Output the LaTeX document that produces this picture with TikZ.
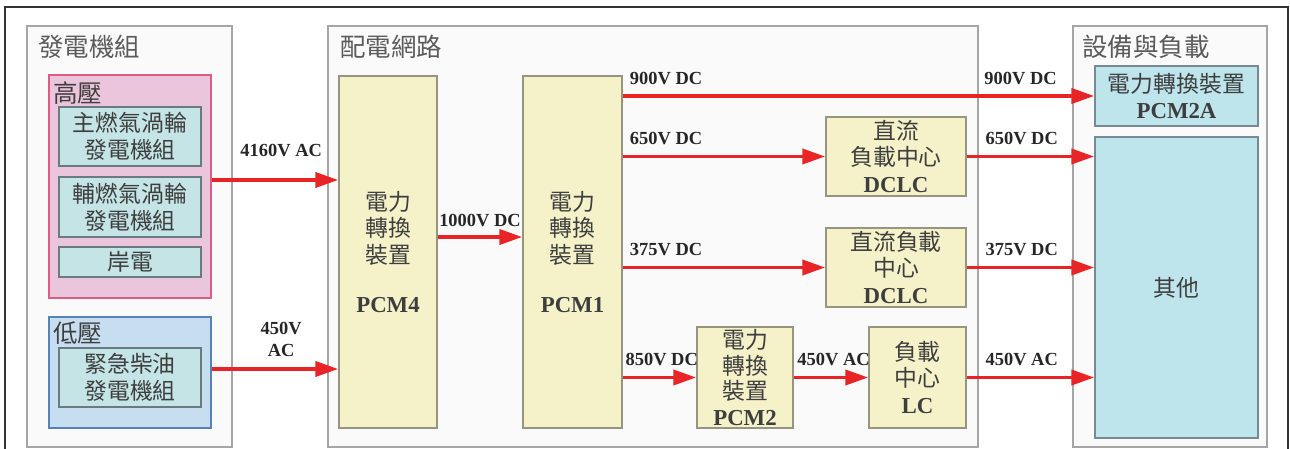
\documentclass[tikz,border=0pt]{standalone}
\usepackage{fontspec}
\setmainfont{Liberation Serif}
\newfontfamily\cjk{Noto Sans CJK TC}
\usepackage{tikz}
\usetikzlibrary{positioning}
\usetikzlibrary{arrows.meta, calc}
\definecolor{areafill}{RGB}{250,250,250}
\definecolor{areadraw}{RGB}{165,165,165}
\definecolor{hvfill}{RGB}{235,197,219}
\definecolor{hvdraw}{RGB}{222,92,130}
\definecolor{lvfill}{RGB}{199,222,240}
\definecolor{lvdraw}{RGB}{86,130,188}
\definecolor{genfill}{RGB}{196,228,230}
\definecolor{gendraw}{RGB}{105,122,130}
\definecolor{convfill}{RGB}{245,242,202}
\definecolor{convdraw}{RGB}{150,150,128}
\definecolor{loadfill}{RGB}{190,228,236}
\definecolor{loaddraw}{RGB}{118,138,148}
\definecolor{arrowred}{RGB}{232,36,38}
\definecolor{cjkgray}{RGB}{62,62,62}
\def\latn#1{{\rmfamily\bfseries #1}}
\tikzstyle{area} = [draw=areadraw, fill=areafill, line width=0.8pt, inner sep=0pt]
\tikzstyle{areatitle} = [anchor=west, inner sep=0pt, text=cjkgray!85, font=\cjk\fontsize{14.5}{16}\selectfont]
\tikzstyle{hvbox} = [draw=hvdraw, fill=hvfill, line width=1pt, inner sep=0pt]
\tikzstyle{lvbox} = [draw=lvdraw, fill=lvfill, line width=1pt, inner sep=0pt]
\tikzstyle{genbox} = [draw=gendraw, fill=genfill, line width=0.9pt, inner sep=0pt, align=center, text=cjkgray, font=\cjk\fontsize{13}{15.3}\selectfont, minimum width=2.84cm]
\tikzstyle{convbox} = [draw=convdraw, fill=convfill, line width=0.9pt, inner sep=0pt, align=center, text=cjkgray, font=\cjk\fontsize{13}{15}\selectfont]
\tikzstyle{loadbox} = [draw=loaddraw, fill=loadfill, line width=0.9pt, inner sep=0pt, align=center, text=cjkgray, font=\cjk\fontsize{13}{15}\selectfont, minimum width=3.26cm]
\tikzstyle{volt} = [inner sep=0pt, align=center, text=black!85, font=\bfseries\fontsize{10.5}{12.5}\selectfont]
\tikzstyle{arrow} = [draw=arrowred, line width=2.2pt, -{Triangle[length=13pt,width=8.5pt]}]

\begin{document}
\begin{tikzpicture}[x=0.02cm,y=-0.02cm]
      \useasboundingbox (0,0) rectangle (1290,449);
      \draw[black!80, line width=1.2pt] (5,449) -- (5,7) -- (1288,7) -- (1288,449);
      % three areas
      \node[area, minimum width=4.1cm, minimum height=8.42cm] (gen) at (129.5,236.5) {};
      \node[area, minimum width=13cm, minimum height=8.42cm] (net) at (653,236.5) {};
      \node[area, minimum width=3.88cm, minimum height=8.42cm] (load) at (1170,236.5) {};
      \node[areatitle] (tgen) at (38,47) {發電機組};
      \node[areatitle] (tnet) at (340,47) {配電網路};
      \node[areatitle] (tload) at (1082,47) {設備與負載};
      % generators
      \node[hvbox, minimum width=3.24cm, minimum height=4.46cm] (hv) at (130,186.5) {};
      \node[areatitle, text=cjkgray, font=\cjk\fontsize{14}{16}\selectfont] (thv) at (53,93) {高壓};
      \node[genbox, minimum height=1.18cm] (gt1) at (130,136.5) {主燃氣渦輪\\發電機組};
      \node[genbox, minimum height=1.2cm] (gt2) at (130,207) {輔燃氣渦輪\\發電機組};
      \node[genbox, minimum height=0.6cm] (shore) at (130,262) {岸電};
      \node[lvbox, minimum width=3.24cm, minimum height=2.22cm] (lv) at (130,372.5) {};
      \node[areatitle, text=cjkgray, font=\cjk\fontsize{14}{16}\selectfont] (tlv) at (53,333) {低壓};
      \node[genbox, minimum height=1.18cm] (diesel) at (130,377.5) {緊急柴油\\發電機組};
      % distribution
      \node[convbox, minimum width=1.96cm, minimum height=7.04cm] (pcm4) at (388,252) {電力\\轉換\\裝置\\[13pt]\latn{PCM4}};
      \node[convbox, minimum width=1.98cm, minimum height=7.04cm] (pcm1) at (572.5,252) {電力\\轉換\\裝置\\[13pt]\latn{PCM1}};
      \node[convbox, minimum width=2.8cm, minimum height=1.58cm] (dclc1) at (896,156.5) {直流\\負載中心\\\latn{DCLC}};
      \node[convbox, minimum width=2.8cm, minimum height=1.58cm] (dclc2) at (896,267.5) {直流負載\\中心\\\latn{DCLC}};
      \node[convbox, minimum width=1.92cm, minimum height=2.02cm, font=\cjk\fontsize{13}{14.6}\selectfont] (pcm2) at (745,377.5) {電力\\轉換\\裝置\\\latn{PCM2}};
      \node[convbox, minimum width=1.94cm, minimum height=2.02cm] (lc) at (917.5,377.5) {負載\\中心\\\latn{LC}};
      % loads
      \node[loadbox, minimum height=1.2cm] (pcm2a) at (1176.5,96) {電力轉換裝置\\\latn{PCM2A}};
      \node[loadbox, minimum height=6.02cm] (other) at (1176.5,287.5) {其他};
      % arrows
      \coordinate (hvout) at ([yshift=0.13cm]hv.east);
      \coordinate (lvout) at ([yshift=0.07cm]lv.east);
      \coordinate (dcout) at ([yshift=0.3cm]pcm4.east);
      \draw[arrow] (hvout) -- (hvout -| pcm4.west) node[volt, midway, above=12pt, xshift=3.5pt] (v4160) {4160V AC};
      \draw[arrow] (lvout) -- (lvout -| pcm4.west) node[volt, midway, above=6pt, xshift=3.5pt] (v450a) {450V\\AC};
      \draw[arrow] (dcout) -- (dcout -| pcm1.west) node[volt, midway, above=5pt] (v1000) {1000V DC};
      \draw[arrow] (pcm2a.west -| pcm1.east) -- (pcm2a.west)
            node[volt, pos=0, anchor=south west, xshift=3pt, yshift=5.5pt] (v900a) {900V DC}
            node[volt, pos=0.763, anchor=south west, yshift=5.5pt] (v900b) {900V DC};
      \draw[arrow] (dclc1.west -| pcm1.east) -- (dclc1.west) node[volt, pos=0, anchor=south west, xshift=3pt, yshift=5.5pt] (v650a) {650V DC};
      \draw[arrow] (dclc1.east) -- (dclc1.east -| other.west) node[volt, pos=0, anchor=south west, xshift=9.6pt, yshift=5.5pt] (v650b) {650V DC};
      \draw[arrow] (dclc2.west -| pcm1.east) -- (dclc2.west) node[volt, pos=0, anchor=south west, xshift=3pt, yshift=5.5pt] (v375a) {375V DC};
      \draw[arrow] (dclc2.east) -- (dclc2.east -| other.west) node[volt, pos=0, anchor=south west, xshift=9.6pt, yshift=5.5pt] (v375b) {375V DC};
      \draw[arrow] (pcm2.west -| pcm1.east) -- (pcm2.west) node[volt, pos=0, anchor=south west, xshift=0.5pt, yshift=5.5pt] (v850) {850V DC};
      \draw[arrow] (pcm2.east) -- (lc.west) node[volt, pos=0, anchor=south west, xshift=1pt, yshift=5.5pt] (v450b) {450V AC};
      \draw[arrow] (lc.east) -- (lc.east -| other.west) node[volt, pos=0, anchor=south west, xshift=9.6pt, yshift=5.5pt] (v450c) {450V AC};
\end{tikzpicture}
\end{document}
